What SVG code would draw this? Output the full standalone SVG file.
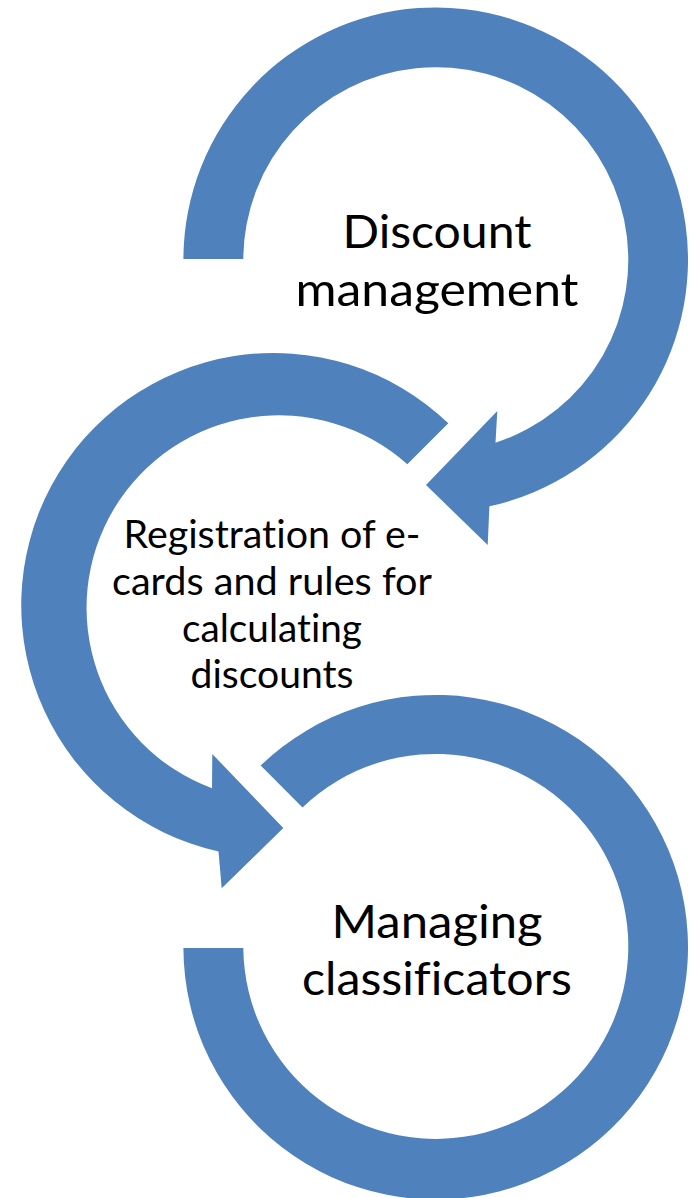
<svg xmlns="http://www.w3.org/2000/svg" width="696" height="1198" viewBox="0 0 696 1198">
  <style>
    .arrow { fill: #4F81BD; stroke: none; }
    .lbl { font-family: Lato, "Open Sans", "Liberation Sans", sans-serif; fill: #000000; text-anchor: middle; font-variant-ligatures: none; font-feature-settings: "liga" 0, "dlig" 0; }
    .big { font-size: 47px; }
    .mid { font-size: 38px; }
  </style>
  <rect x="0" y="0" width="696" height="1198" fill="#FFFFFF"/>
  <g id="node-discount-management">
    <path class="arrow" d="M 183.4,259 A 252.3 252.3 0 1 1 489.4,506.3 L 487.7,545 L 426,485 L 497.3,411 L 495.5,442.7 A 192.5 192.5 0 1 0 243.3,259 Z"/>
    <text class="lbl big" x="437" y="248.3" textLength="189" lengthAdjust="spacingAndGlyphs">Discount</text>
    <text class="lbl big" x="437" y="305.5" textLength="283" lengthAdjust="spacingAndGlyphs">management</text>
  </g>
  <g id="node-registration">
    <path class="arrow" d="M 448.3,423.3 A 252.3 252.3 0 1 0 218.5,851.5 L 221.7,888.3 L 283.3,828 L 212.3,754 L 212,788.3 A 192.5 192.5 0 1 1 407.3,464.3 Z"/>
    <text class="lbl mid" x="272" y="548.3" textLength="297" lengthAdjust="spacingAndGlyphs">Registration of e-</text>
    <text class="lbl mid" x="272" y="595" textLength="320" lengthAdjust="spacingAndGlyphs">cards and rules for</text>
    <text class="lbl mid" x="272" y="641.7" textLength="180" lengthAdjust="spacingAndGlyphs">calculating</text>
    <text class="lbl mid" x="272" y="688.3" textLength="163" lengthAdjust="spacingAndGlyphs">discounts</text>
  </g>
  <g id="node-managing-classificators">
    <path class="arrow" d="M 260.7,765.5 A 252.3 252.3 0 1 1 183.4,948 L 243.3,948 A 192.5 192.5 0 1 0 302.5,807.5 Z"/>
    <text class="lbl big" x="437" y="938.3" textLength="211" lengthAdjust="spacingAndGlyphs">Managing</text>
    <text class="lbl big" x="437" y="995" textLength="270" lengthAdjust="spacingAndGlyphs">classificators</text>
  </g>
  <g id="connectors"/>
</svg>
